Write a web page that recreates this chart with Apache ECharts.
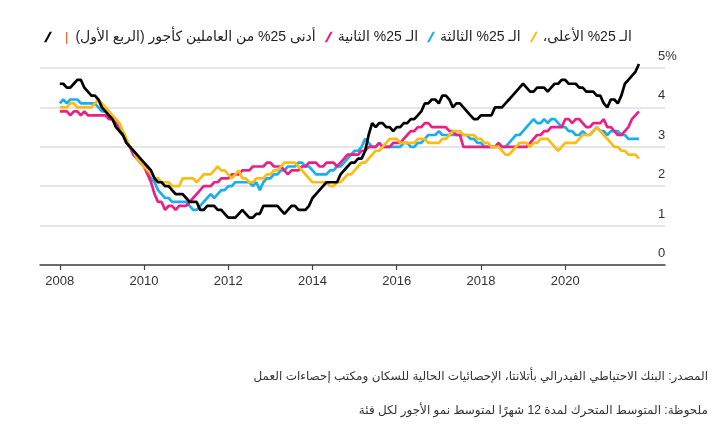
<!DOCTYPE html>
<html>
<head>
<meta charset="utf-8">
<script src="https://cdn.jsdelivr.net/npm/echarts@6/dist/echarts.min.js"></script>
<style>
html,body{margin:0;padding:0;background:#fff;}
#chart{width:720px;height:439px;}
</style>
</head>
<body>
<div id="chart" dir="rtl"></div>
<script>
// Monthly values, Jan 2008 onward (12-month moving average of wage growth, %)
const startYear = 2008;
const seriesNames = [
  'أدنى 25% من العاملين كأجور (الربع الأول)',
  'الـ 25% الثانية',
  'الـ 25% الثالثة',
  'الـ 25% الأعلى،'
];
const bottom25 = [
4.6,4.6,4.5,4.5,4.6,4.7,4.7,4.5,4.4,4.3,4.3,4.2,
4.0,3.9,3.8,3.7,3.5,3.4,3.3,3.1,3.0,2.9,2.8,2.7,
2.6,2.5,2.4,2.2,2.1,2.1,2.0,2.0,1.9,1.8,1.8,1.8,
1.7,1.6,1.6,1.6,1.4,1.4,1.5,1.5,1.5,1.4,1.4,1.3,
1.2,1.2,1.2,1.3,1.4,1.3,1.2,1.2,1.3,1.3,1.5,1.5,
1.5,1.5,1.5,1.4,1.3,1.4,1.5,1.5,1.4,1.4,1.4,1.5,
1.7,1.8,1.9,2.0,2.1,2.1,2.1,2.1,2.3,2.4,2.5,2.6,
2.6,2.7,2.7,2.9,3.3,3.6,3.5,3.6,3.6,3.5,3.5,3.4,
3.5,3.5,3.6,3.6,3.7,3.7,3.8,3.9,4.1,4.1,4.2,4.2,
4.1,4.3,4.3,4.2,4.0,4.1,4.1,4.0,3.9,3.8,3.7,3.7,
3.8,3.8,3.8,3.8,4.0,4.0,4.0,4.1,4.2,4.3,4.4,4.5,
4.6,4.5,4.4,4.4,4.5,4.5,4.5,4.4,4.5,4.6,4.6,4.7,
4.7,4.6,4.6,4.6,4.5,4.5,4.4,4.4,4.4,4.3,4.3,4.1,
4.0,4.2,4.2,4.1,4.3,4.6,4.7,4.8,4.9,5.1
];
const second25 = [
3.9,3.9,3.9,3.8,3.9,3.9,3.8,3.9,3.8,3.8,3.8,3.8,
3.8,3.8,3.7,3.7,3.6,3.4,3.3,3.1,3.0,2.8,2.7,2.6,
2.5,2.3,2.1,1.8,1.6,1.6,1.4,1.5,1.5,1.4,1.5,1.5,
1.5,1.6,1.7,1.8,1.9,2.0,2.0,2.0,2.1,2.1,2.2,2.2,
2.2,2.3,2.3,2.3,2.4,2.4,2.4,2.5,2.5,2.5,2.5,2.6,
2.6,2.5,2.5,2.5,2.4,2.3,2.4,2.4,2.4,2.5,2.5,2.6,
2.6,2.6,2.5,2.5,2.6,2.6,2.6,2.5,2.6,2.7,2.8,2.8,
2.8,2.8,2.9,2.9,3.0,3.0,3.0,3.1,3.0,3.0,3.0,3.1,
3.1,3.1,3.2,3.3,3.4,3.4,3.5,3.5,3.6,3.6,3.5,3.5,
3.5,3.5,3.5,3.4,3.4,3.3,3.3,3.0,3.0,3.0,3.0,3.0,
3.0,3.0,3.0,3.0,3.0,3.1,3.0,3.0,3.0,3.0,3.0,3.0,
3.0,3.0,3.1,3.2,3.3,3.3,3.4,3.4,3.5,3.5,3.5,3.5,
3.7,3.7,3.6,3.7,3.7,3.6,3.5,3.5,3.6,3.6,3.6,3.7,
3.5,3.5,3.4,3.3,3.3,3.4,3.5,3.7,3.8,3.9
];
const third25 = [
4.1,4.2,4.1,4.2,4.2,4.2,4.1,4.1,4.1,4.1,4.1,4.0,
3.9,3.9,3.8,3.7,3.6,3.5,3.3,3.1,3.0,2.8,2.7,2.6,
2.5,2.4,2.2,2.1,1.9,1.8,1.7,1.7,1.6,1.6,1.6,1.6,
1.6,1.5,1.4,1.4,1.5,1.6,1.7,1.8,1.7,1.8,1.9,1.9,
2.0,2.0,2.1,2.1,2.1,2.1,2.1,2.0,2.1,1.9,2.1,2.2,
2.2,2.3,2.3,2.4,2.4,2.5,2.5,2.5,2.6,2.6,2.5,2.5,
2.4,2.3,2.3,2.3,2.3,2.4,2.4,2.5,2.5,2.6,2.7,2.8,
2.9,2.9,3.0,3.2,3.1,3.0,3.0,3.1,3.0,3.0,3.0,3.0,
3.0,3.0,3.1,3.1,3.0,3.0,3.1,3.1,3.2,3.3,3.3,3.3,
3.4,3.3,3.3,3.3,3.3,3.3,3.3,3.3,3.3,3.2,3.2,3.1,
3.1,3.0,3.0,3.0,3.0,3.0,3.0,3.0,3.1,3.2,3.3,3.3,
3.4,3.5,3.6,3.7,3.6,3.6,3.7,3.6,3.7,3.7,3.6,3.5,
3.5,3.4,3.4,3.3,3.3,3.4,3.3,3.3,3.4,3.5,3.4,3.4,
3.3,3.4,3.4,3.4,3.3,3.3,3.2,3.2,3.2,3.2
];
const top25 = [
4.0,4.0,4.0,4.1,4.1,4.0,4.0,4.0,4.0,4.0,4.1,4.2,
4.1,4.0,3.9,3.8,3.7,3.6,3.4,3.2,3.0,2.9,2.7,2.6,
2.5,2.4,2.3,2.2,2.2,2.1,2.1,2.1,2.0,2.0,2.0,2.2,
2.2,2.2,2.2,2.1,2.2,2.3,2.3,2.3,2.4,2.5,2.4,2.4,
2.3,2.2,2.3,2.4,2.2,2.2,2.1,2.1,2.2,2.2,2.2,2.3,
2.3,2.4,2.4,2.5,2.6,2.6,2.6,2.6,2.5,2.4,2.3,2.2,
2.1,2.1,2.1,2.1,2.1,2.0,2.0,2.1,2.1,2.2,2.3,2.3,
2.4,2.5,2.6,2.6,2.7,2.8,2.9,2.9,3.0,3.1,3.2,3.2,
3.2,3.1,3.1,3.1,3.1,3.1,3.2,3.2,3.2,3.1,3.1,3.1,
3.1,3.2,3.2,3.3,3.4,3.4,3.4,3.3,3.3,3.3,3.3,3.2,
3.2,3.1,3.1,3.0,3.0,3.0,2.9,2.8,2.8,2.9,3.0,3.1,
3.1,3.1,3.0,3.1,3.1,3.2,3.2,3.2,3.1,3.0,2.9,3.0,
3.1,3.1,3.1,3.1,3.2,3.3,3.3,3.3,3.4,3.5,3.4,3.3,
3.2,3.1,3.0,3.0,2.9,2.9,2.8,2.8,2.8,2.7
];
const xTickYears = [2008,2010,2012,2014,2016,2018,2020];
const yTicks = [0,1,2,3,4,5];
const colors = ['#000000','#ec1f86','#1aaeef','#fbbc13'];
const sourceText = 'المصدر: البنك الاحتياطي الفيدرالي بأتلانتا، الإحصائيات الحالية للسكان ومكتب إحصاءات العمل';
const noteText = 'ملحوظة: المتوسط المتحرك لمدة 12 شهرًا لمتوسط نمو الأجور لكل فئة';

function toPairs(arr){ return arr.map((v,i)=>[startYear + i/12, v]); }

const chart = echarts.init(document.getElementById('chart'), null, {renderer:'canvas'});
const fontF = 'Liberation Sans, Arial, DejaVu Sans, sans-serif';
const seriesData = [bottom25, second25, third25, top25];
const drawOrder = [2,1,3,0];
const series = drawOrder.map(k => ({
  name: seriesNames[k],
  type: 'line',
  data: toPairs(seriesData[k]),
  showSymbol: false,
  symbol: 'none',
  clip: false,
  lineStyle: {color: colors[k], width: 2.7},
  itemStyle: {color: colors[k]},
  z: 2 + drawOrder.indexOf(k)
}));

chart.setOption({
  animation: false,
  backgroundColor: '#fff',
  textStyle: {fontFamily: fontF},
  grid: {left: 40, right: 55, top: 68, bottom: 174, containLabel: false},
  legend: {
    data: seriesNames.map(n => ({name: n, icon: 'path://M0,11 L2.4,11 L8.4,0 L6,0 Z'})),
    left: 39, top: 25,
    itemWidth: 8, itemHeight: 11, itemGap: 9,
    selectedMode: false,
    textStyle: {fontSize: 14, color: '#222', fontFamily: fontF,
      rich: {o: {color: '#e8541e', fontSize: 13, padding: [0, 7, 0, 8]}}},
    formatter: function(name){
      return name === seriesNames[0] ? '{o||}' + name : name;
    }
  },
  xAxis: {
    type: 'value', min: 2007.53, max: 2022.37,
    splitLine: {show: false},
    axisLine: {show: true, lineStyle: {color: '#444', width: 1.5}},
    axisTick: {show: true, customValues: xTickYears, length: 5, lineStyle: {color: '#444', width: 1.2}},
    axisLabel: {customValues: xTickYears, fontSize: 13, color: '#333', margin: 10,
      formatter: v => String(Math.round(v))}
  },
  yAxis: {
    type: 'value', min: 0, max: 5, interval: 1, position: 'right',
    axisLine: {show: false}, axisTick: {show: false},
    splitLine: {lineStyle: {color: '#dddddd', width: 1.5}},
    axisLabel: {margin: -7, align: 'left', verticalAlign: 'bottom', padding: [0,0,5,0],
      fontSize: 13, color: '#333', formatter: v => v === 5 ? '5%' : String(v)}
  },
  graphic: [
    {type: 'text', right: 12, top: 371, style: {text: sourceText, fontSize: 12, fill: '#333', fontFamily: fontF, align: 'right'}},
    {type: 'text', right: 12, top: 405, style: {text: noteText, fontSize: 12, fill: '#333', fontFamily: fontF, align: 'right'}}
  ],
  series: series
});
</script>
</body>
</html>
